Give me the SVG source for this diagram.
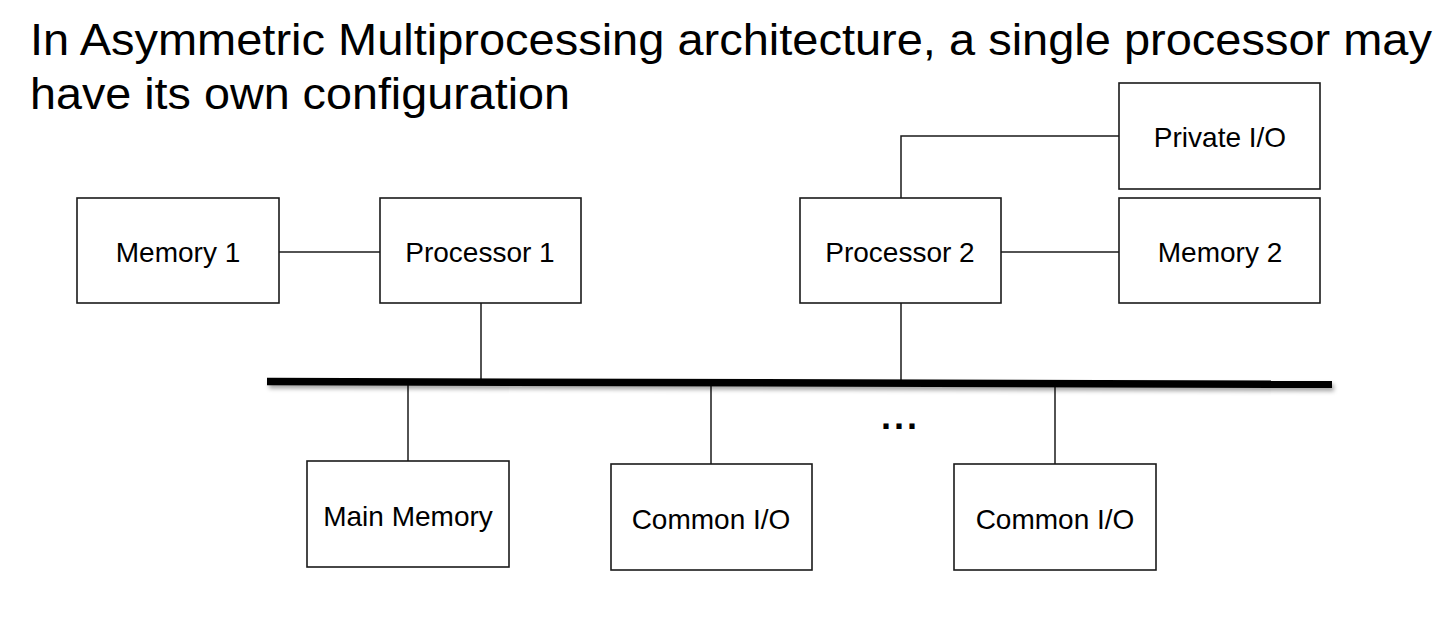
<svg xmlns="http://www.w3.org/2000/svg" width="1446" height="632" viewBox="0 0 1446 632">
<defs>
<style>
.box{fill:#ffffff;stroke:#1a1a1a;stroke-width:1.6}
.lbl{font-family:"Liberation Sans",Arial,sans-serif;font-size:28px;fill:#000;text-anchor:middle}
.title{font-family:"Liberation Sans",Arial,sans-serif;font-size:44px;fill:#000}
.conn{stroke:#1a1a1a;stroke-width:1.5;fill:none}
</style>
<filter id="blur" x="-5%" y="-300%" width="110%" height="700%">
<feGaussianBlur stdDeviation="2.2"/>
</filter>
</defs>
<rect width="1446" height="632" fill="#ffffff"/>
<g id="title">
<text class="title" x="30" y="55" textLength="1402" lengthAdjust="spacingAndGlyphs">In Asymmetric Multiprocessing architecture, a single processor may</text>
<text class="title" x="30" y="109" textLength="540" lengthAdjust="spacingAndGlyphs">have its own configuration</text>
</g>
<g id="connectors">
<line class="conn" x1="279" y1="252" x2="380" y2="252"/>
<line class="conn" x1="481" y1="303" x2="481" y2="381"/>
<line class="conn" x1="1001" y1="252" x2="1119" y2="252"/>
<polyline class="conn" points="901,198 901,136 1119,136"/>
<line class="conn" x1="901" y1="303" x2="901" y2="383"/>
<line class="conn" x1="408" y1="382" x2="408" y2="463"/>
<line class="conn" x1="711" y1="383" x2="711" y2="466"/>
<line class="conn" x1="1055" y1="384" x2="1055" y2="466"/>
<line id="bus-shadow" x1="269" y1="385" x2="1334" y2="387.8" stroke="#000" stroke-opacity="0.35" stroke-width="7" filter="url(#blur)"/>
<line id="bus" x1="267" y1="381.5" x2="1332" y2="384.3" stroke="#000" stroke-width="7.5"/>
</g>
<g id="memory1">
<rect class="box" x="77" y="198" width="202" height="105"/>
<text class="lbl" x="178" y="262">Memory 1</text>
</g>
<g id="processor1">
<rect class="box" x="380" y="198" width="201" height="105"/>
<text class="lbl" x="480" y="262">Processor 1</text>
</g>
<g id="processor2">
<rect class="box" x="800" y="198" width="201" height="105"/>
<text class="lbl" x="900" y="262">Processor 2</text>
</g>
<g id="privateio">
<rect class="box" x="1119" y="83" width="201" height="106"/>
<text class="lbl" x="1220" y="147">Private I/O</text>
</g>
<g id="memory2">
<rect class="box" x="1119" y="198" width="201" height="105"/>
<text class="lbl" x="1220" y="262">Memory 2</text>
</g>
<g id="mainmemory">
<rect class="box" x="307" y="461" width="202" height="106"/>
<text class="lbl" x="408" y="526">Main Memory</text>
</g>
<g id="commonio1">
<rect class="box" x="611" y="464" width="201" height="106"/>
<text class="lbl" x="711" y="529">Common I/O</text>
</g>
<g id="commonio2">
<rect class="box" x="954" y="464" width="202" height="106"/>
<text class="lbl" x="1055" y="529">Common I/O</text>
</g>
<g id="ellipsis">
<text x="881" y="429" font-family="'Liberation Sans',Arial,sans-serif" font-size="36" font-weight="bold" letter-spacing="3">...</text>
</g>
</svg>
